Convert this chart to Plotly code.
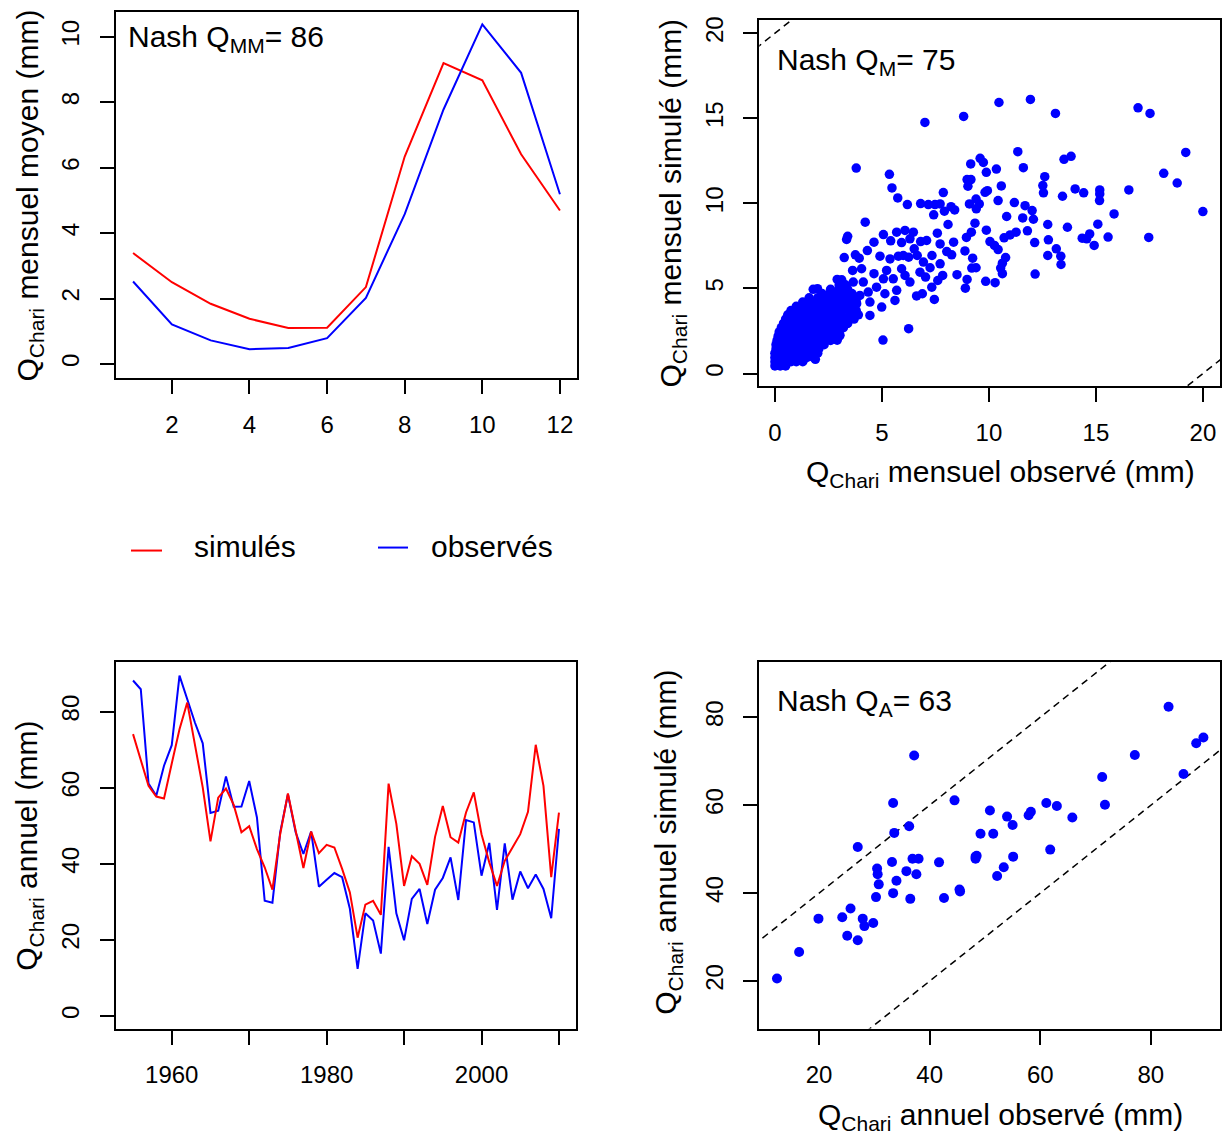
import plotly.graph_objects as go

W, H = 1223, 1137


def fx(px):
    return px / W


def fy(py):
    return 1 - py / H


# ---------------- data ----------------
months = list(range(1, 13))
mm_sim = [3.39, 2.50, 1.84, 1.38, 1.10, 1.11, 2.35, 6.34, 9.20, 8.67, 6.41, 4.69]
mm_obs = [2.52, 1.21, 0.72, 0.45, 0.49, 0.79, 2.02, 4.58, 7.78, 10.38, 8.90, 5.19]

years = list(range(1955, 2011))
ann_obs = [88.2, 85.9, 61.1, 57.9, 65.8, 71.2, 89.5, 83.2, 77.1, 71.7,
           53.4, 54.0, 63.0, 55.0, 55.1, 61.8, 52.2, 30.3, 29.8, 48.3,
           58.3, 48.3, 42.6, 48.5, 34.0, 35.8, 37.6, 36.5, 28.2, 12.4,
           27.0, 25.1, 16.4, 44.5, 27.0, 19.9, 30.8, 33.4, 24.2, 33.2,
           36.3, 41.7, 30.5, 51.5, 50.9, 36.9, 45.5, 27.9, 45.4, 30.6,
           38.0, 33.6, 37.2, 33.4, 25.7, 49.2]
ann_sim = [74.1, 67.1, 60.5, 57.7, 57.2, 66.4, 75.4, 82.4, 71.4, 60.1,
           45.9, 57.4, 59.8, 55.5, 48.3, 49.9, 43.9, 39.1, 33.2, 47.8,
           58.5, 48.3, 38.9, 48.5, 42.8, 45.0, 44.3, 38.7, 32.5, 20.6,
           29.3, 30.3, 26.6, 61.1, 50.5, 34.2, 42.0, 40.0, 34.5, 47.1,
           55.2, 47.0, 45.6, 53.5, 58.8, 47.8, 40.4, 34.2, 40.8, 44.3,
           47.8, 53.7, 71.3, 60.5, 36.5, 53.5]

# monthly values (observed, simulated), scattered part
mon_obs_a = [7.01, 8.82, 10.47, 11.94, 13.11, 16.97, 17.53, 19.20, 11.35, 9.59,
             9.74, 9.15, 13.51, 13.84, 3.80, 10.35, 11.61, 9.88, 5.35, 18.17,
             18.80, 12.61, 8.98, 9.16, 9.02, 12.52, 10.58, 12.55, 5.47, 9.82,
             9.93, 7.87, 14.03, 14.43, 15.18, 15.18, 15.17, 16.54, 13.44, 5.74,
             6.19, 6.81, 7.17, 7.48, 7.72, 7.42, 7.92, 8.23, 8.40, 9.09,
             9.40, 9.55, 9.41, 10.43, 11.19, 11.69, 12.02, 10.83, 11.58, 12.08,
             8.09, 9.35, 20.00, 15.85, 12.75, 13.67, 15.09, 4.22, 3.40, 3.35,
             9.88, 9.18, 8.95, 11.80, 11.27, 10.99, 10.71, 10.05, 10.26, 10.43,
             12.14, 12.78, 14.71, 14.36, 14.57, 15.57, 17.47, 14.92, 13.15, 12.75,
             13.36, 13.37, 10.78, 10.63, 10.55, 10.63, 12.16, 9.85, 10.29, 9.24,
             9.20, 9.40, 8.88, 8.51, 8.98, 8.90, 7.59, 8.35, 7.72, 8.03,
             8.26, 7.34, 7.72, 7.25, 7.84, 7.61, 7.33, 7.45, 6.89, 6.62,
             7.04, 6.94, 6.65, 7.09, 6.81, 6.47, 6.08, 5.69, 5.07, 5.41,
             4.63, 5.92, 6.31, 6.51, 6.25, 6.00, 5.77, 5.38, 4.91, 4.32,
             3.76, 3.24, 3.94, 4.05, 3.63, 3.12, 2.91, 3.27, 3.66, 4.13,
             4.63, 5.07, 5.22, 5.53, 5.92, 6.08, 6.31, 6.78, 5.69, 5.61,
             5.14, 4.75, 4.36, 3.97, 4.44, 4.99, 4.44, 3.82, 3.51, 3.20,
             2.81, 2.42, 1.79, 1.99, 3.51, 3.35, 3.04, 2.91, 6.25, 5.05,
             1.89, 1.32]
mon_sim_a = [14.76, 15.11, 15.93, 16.11, 15.29, 15.62, 15.29, 13.00, 13.04, 12.65,
             12.41, 12.32, 12.59, 12.77, 12.08, 12.02, 12.10, 11.83, 11.71, 11.77,
             11.20, 11.57, 11.40, 11.40, 11.01, 11.05, 11.03, 10.62, 10.91, 10.65,
             10.75, 10.64, 10.85, 10.62, 10.79, 10.56, 10.17, 10.79, 10.42, 10.32,
             9.93, 9.99, 9.93, 9.93, 9.97, 9.33, 9.54, 9.81, 9.62, 9.97,
             10.26, 9.97, 9.68, 10.17, 10.05, 9.87, 9.58, 9.23, 9.15, 9.07,
             8.76, 8.84, 9.52, 9.38, 8.76, 8.60, 8.78, 8.90, 8.07, 7.88,
             8.43, 8.31, 8.00, 8.39, 8.31, 8.15, 7.98, 7.76, 7.53, 7.29,
             7.70, 7.86, 8.21, 7.96, 7.92, 8.02, 8.00, 7.53, 7.33, 6.94,
             6.90, 6.41, 6.82, 6.49, 6.20, 5.87, 5.85, 5.42, 5.34, 6.78,
             6.20, 6.22, 7.21, 5.81, 5.53, 5.02, 8.25, 7.72, 7.62, 7.17,
             6.98, 6.94, 6.45, 6.22, 5.77, 5.47, 5.08, 4.36, 4.69, 4.56,
             5.67, 6.55, 6.94, 7.82, 7.76, 8.31, 8.41, 8.31, 8.17, 7.80,
             7.72, 7.70, 7.92, 7.33, 6.84, 6.94, 6.90, 6.74, 6.90, 7.23,
             6.98, 6.82, 6.78, 6.16, 6.06, 5.51, 5.53, 5.22, 5.38, 5.38,
             5.87, 5.57, 6.06, 5.57, 6.16, 5.77, 5.38, 5.96, 4.89, 4.30,
             4.69, 5.08, 4.79, 4.59, 4.20, 3.91, 3.42, 4.11, 4.30, 4.59,
             4.20, 4.59, 4.95, 4.99, 3.62, 2.93, 2.25, 1.96, 2.64, 1.97,
             0.84, 0.78]

# monthly values, dense low-flow cluster: simulated level -> observed values
dense_rows = [
    (0.45, [0.00, 0.25, 0.50]),
    (0.70, [0.00, 0.25, 0.50, 0.75, 1.00, 1.30]),
    (0.95, [0.00, 0.25, 0.50, 0.75, 1.00, 1.25, 1.50, 1.80]),
    (1.20, [0.00, 0.25, 0.50, 0.75, 1.00, 1.25, 1.50, 1.75, 2.00]),
    (1.45, [0.05, 0.30, 0.55, 0.80, 1.05, 1.30, 1.55, 1.80, 2.05]),
    (1.70, [0.05, 0.30, 0.55, 0.80, 1.05, 1.30, 1.55, 1.80, 2.05, 2.30]),
    (1.95, [0.10, 0.35, 0.60, 0.85, 1.10, 1.35, 1.60, 1.85, 2.10, 2.35, 2.60]),
    (2.20, [0.15, 0.40, 0.65, 0.90, 1.15, 1.40, 1.65, 1.90, 2.15, 2.40, 2.70, 3.00]),
    (2.45, [0.20, 0.45, 0.70, 0.95, 1.20, 1.45, 1.70, 1.95, 2.20, 2.45, 2.75, 3.00]),
    (2.70, [0.30, 0.55, 0.80, 1.05, 1.30, 1.55, 1.80, 2.05, 2.30, 2.55, 2.85, 3.20]),
    (2.95, [0.40, 0.65, 0.90, 1.15, 1.40, 1.65, 1.90, 2.15, 2.40, 2.70, 3.00, 3.40]),
    (3.20, [0.50, 0.75, 1.00, 1.25, 1.50, 1.75, 2.00, 2.30, 2.60, 2.90, 3.30, 3.70]),
    (3.45, [0.60, 0.85, 1.10, 1.35, 1.60, 1.90, 2.20, 2.50, 2.80, 3.10, 3.50, 3.90]),
    (3.70, [0.75, 1.00, 1.30, 1.60, 1.90, 2.20, 2.50, 2.80, 3.10, 3.45, 3.80]),
    (3.95, [1.00, 1.40, 1.70, 2.00, 2.30, 2.60, 2.90, 3.20, 3.60]),
    (4.20, [1.30, 1.70, 2.10, 2.50, 2.80, 3.10, 3.40, 3.80]),
    (4.45, [1.60, 2.00, 2.40, 2.75, 3.05, 3.40, 3.70]),
    (4.70, [2.20, 2.60, 2.90, 3.30, 3.60]),
    (4.95, [2.60, 3.00, 3.40]),
    (5.20, [3.00, 3.30]),
]

mon_obs = list(mon_obs_a)
mon_sim = list(mon_sim_a)
for level, xs in dense_rows:
    for v in xs:
        mon_obs.append(v)
        mon_sim.append(level)

nash_mm, nash_m, nash_a = 86, 75, 63
band = 20  # dashed lines: simulated = observed +/- band

RED = "#FF0000"
BLUE = "#0000FF"
FONT = "Liberation Sans, Arial, Helvetica, sans-serif"

# ---------------- panels (pixel boxes in the window) ----------------
tl_x = [fx(116), fx(577)]
tl_y = [fy(376), fy(8.7)]
tr_x = [fx(759.3), fx(1220)]
tr_y = [fy(384), fy(16.7)]
bl_x = [fx(116), fx(576)]
bl_y = [fy(1028.3), fy(661)]
br_x = [fx(759.3), fx(1220)]
br_y = [fy(1028.3), fy(661)]

tl_xr = [0.56, 12.44]
tl_yr = [-0.43, 10.77]
tr_r = [-0.73, 20.8]
bl_xr = [1952.8, 2012.2]
bl_yr = [-3.3, 93.0]
br_r = [9.2, 92.5]

fig = go.Figure()

# top-left: monthly regime
fig.add_trace(go.Scatter(x=months, y=mm_sim, mode="lines", line=dict(color=RED, width=2),
                         xaxis="x", yaxis="y", showlegend=False))
fig.add_trace(go.Scatter(x=months, y=mm_obs, mode="lines", line=dict(color=BLUE, width=2),
                         xaxis="x", yaxis="y", showlegend=False))

# top-right: monthly scatter
for off in (band, -band):
    fig.add_trace(go.Scatter(x=[tr_r[0] - 5, tr_r[1] + 5],
                             y=[tr_r[0] - 5 + off, tr_r[1] + 5 + off],
                             mode="lines", line=dict(color="black", width=1.5, dash="7px,5px"),
                             xaxis="x2", yaxis="y2", showlegend=False))
fig.add_trace(go.Scatter(x=mon_obs, y=mon_sim, mode="markers",
                         marker=dict(color=BLUE, size=9.5, line=dict(width=0)),
                         xaxis="x2", yaxis="y2", showlegend=False))

# bottom-left: annual series
fig.add_trace(go.Scatter(x=years, y=ann_obs, mode="lines", line=dict(color=BLUE, width=2),
                         xaxis="x3", yaxis="y3", showlegend=False))
fig.add_trace(go.Scatter(x=years, y=ann_sim, mode="lines", line=dict(color=RED, width=2),
                         xaxis="x3", yaxis="y3", showlegend=False))

# bottom-right: annual scatter
for off in (band, -band):
    fig.add_trace(go.Scatter(x=[br_r[0] - 30, br_r[1] + 30],
                             y=[br_r[0] - 30 + off, br_r[1] + 30 + off],
                             mode="lines", line=dict(color="black", width=1.5, dash="7px,5px"),
                             xaxis="x4", yaxis="y4", showlegend=False))
fig.add_trace(go.Scatter(x=ann_obs, y=ann_sim, mode="markers",
                         marker=dict(color=BLUE, size=10, line=dict(width=0)),
                         xaxis="x4", yaxis="y4", showlegend=False))


def axis(domain, rng, tickvals, anchor, angle=0, standoff=10, minor=None):
    d = dict(domain=domain, range=rng, tickvals=tickvals, anchor=anchor,
             ticks="outside", ticklen=14, tickwidth=1.8, tickcolor="black",
             showline=True, linecolor="black", linewidth=2, mirror=True,
             showgrid=False, zeroline=False, tickangle=angle,
             ticklabelstandoff=standoff,
             tickfont=dict(size=24, color="black", family=FONT))
    if minor is not None:
        d["minor"] = minor
    return d


XS = 10
YS = 11
fig.update_layout(
    width=W, height=H,
    margin=dict(l=0, r=0, t=0, b=0),
    paper_bgcolor="white", plot_bgcolor="white",
    font=dict(family=FONT, color="black"),
    xaxis=axis(tl_x, tl_xr, [2, 4, 6, 8, 10, 12], "y", standoff=XS),
    yaxis=axis(tl_y, tl_yr, [0, 2, 4, 6, 8, 10], "x", angle=-90, standoff=YS),
    xaxis2=axis(tr_x, tr_r, [0, 5, 10, 15, 20], "y2", standoff=XS),
    yaxis2=axis(tr_y, tr_r, [0, 5, 10, 15, 20], "x2", angle=-90, standoff=YS),
    xaxis3=axis(bl_x, bl_xr, [1960, 1980, 2000], "y3", standoff=XS,
                minor=dict(tick0=1960, dtick=10, ticks="outside", ticklen=14,
                           tickwidth=1.8, tickcolor="black", showgrid=False)),
    yaxis3=axis(bl_y, bl_yr, [0, 20, 40, 60, 80], "x3", angle=-90, standoff=YS),
    xaxis4=axis(br_x, br_r, [20, 40, 60, 80], "y4", standoff=XS),
    yaxis4=axis(br_y, br_r, [20, 40, 60, 80], "x4", angle=-90, standoff=YS),
)

TS = 30
ann = []


def txt(x, y, text, size, angle=0, xanchor="center", yanchor="middle"):
    ann.append(dict(x=fx(x), y=fy(y), xref="paper", yref="paper", text=text,
                    showarrow=False, textangle=angle, xanchor=xanchor, yanchor=yanchor,
                    font=dict(size=size, color="black", family=FONT)))


Q = "Q<sub>Chari</sub>"
txt(29, 193, Q + " mensuel moyen (mm)", TS, angle=-90)
txt(672, 200, Q + " mensuel simulé (mm)", TS, angle=-90)
txt(1000, 472, Q + " mensuel observé (mm)", TS)
txt(29, 845, Q + " annuel (mm)", TS, angle=-90)
txt(668, 842, Q + " annuel simulé (mm)", TS, angle=-90)
txt(1000, 1116, Q + " annuel observé (mm)", TS)

NS = 30
txt(126, 36, "Nash Q<sub>MM</sub>= %d" % nash_mm, NS, xanchor="left")
txt(775, 59, "Nash Q<sub>M</sub>= %d" % nash_m, NS, xanchor="left")
txt(775, 701, "Nash Q<sub>A</sub>= %d" % nash_a, NS, xanchor="left")

# legend
txt(192, 545, "simulés", 30, xanchor="left")
txt(429, 545, "observés", 30, xanchor="left")
fig.update_layout(annotations=ann, shapes=[
    dict(type="line", xref="paper", yref="paper", x0=fx(131), x1=fx(162), y0=fy(549), y1=fy(549),
         line=dict(color=RED, width=2)),
    dict(type="line", xref="paper", yref="paper", x0=fx(378), x1=fx(408), y0=fy(546), y1=fy(546),
         line=dict(color=BLUE, width=2)),
])

# place the figure at the window corner (no page margin, no scrollbars)
fig.write_html(
    "out.html",
    config={"displayModeBar": False},
    post_script="document.body.style.margin='0';"
                "document.body.style.overflow='hidden';"
                "document.documentElement.style.overflow='hidden';",
)
